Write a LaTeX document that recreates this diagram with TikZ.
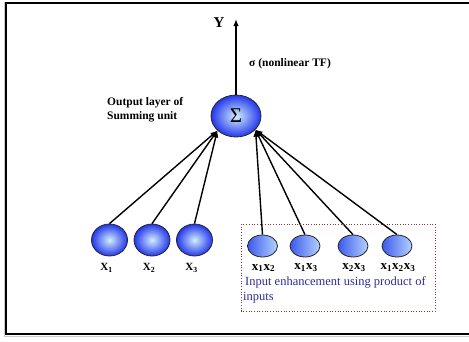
\documentclass[tikz,border=0pt]{standalone}
\usepackage{fontspec}
\setmainfont{Liberation Serif}
\usetikzlibrary{arrows.meta}
\usetikzlibrary{shapes.geometric}

\definecolor{ballblue}{RGB}{35,55,235}
\definecolor{balllight}{RGB}{210,238,255}
\definecolor{prodleft}{RGB}{60,90,235}
\definecolor{prodright}{RGB}{180,210,255}
\definecolor{enhblue}{RGB}{45,45,150}
\definecolor{boxred}{RGB}{140,50,50}

\tikzset{
  inball/.style={ellipse,draw=black!85,line width=0.8pt,shading=radial,
    inner color=balllight,outer color=ballblue,
    minimum width=36pt,minimum height=32pt,inner sep=0pt},
  sumball/.style={inball,minimum width=50pt,minimum height=42pt},
  prodball/.style={ellipse,draw=black!85,line width=0.8pt,
    left color=prodleft,right color=prodright,
    minimum width=30pt,minimum height=22pt,inner sep=0pt},
  inlabel/.style={font=\bfseries\fontsize{11}{12}\selectfont,inner sep=0pt},
  prodlabel/.style={font=\bfseries\fontsize{13}{14}\selectfont,inner sep=0pt},
  note/.style={font=\bfseries\fontsize{11.5}{14}\selectfont,align=left,inner sep=0pt},
  link/.style={-{Latex[length=7pt,width=5.5pt]},line width=1.4pt}
}

\begin{document}
\begin{tikzpicture}[x=1pt, y=-1pt]
    \useasboundingbox (0,0) rectangle (469,341);
    \draw[black!20,line width=1pt] (4,2) -- (4,336) -- (476,336);
    \draw[line width=2pt] (6,3) rectangle (476,334);

    \node[sumball] (sum) at (236,116) {\fontsize{21}{21}\selectfont Σ};
    \coordinate (out) at (236,19);
    \draw[link] (sum.north) -- (out);
    \node[font=\bfseries\fontsize{15}{15}\selectfont,inner sep=0pt] (ylab) at (219,23) {Y};
    \node[note,anchor=west] (tf) at (249,64) {σ (nonlinear TF)};
    \node[note,anchor=north west] (outlayer) at (107,97) {Output layer of\\Summing unit};

    \foreach \n/\x in {1/109.5,2/152,3/194.5} {
        \node[inball] (x\n) at (\x,240) {};
        \node[inlabel] (lx\n) at (\x-3,268) {X\textsubscript{\n}};
        \draw[link] (x\n.north) -- (sum.218);
    }

    \foreach \n/\x/\t in {12/262.5/{x\textsubscript{1}x\textsubscript{2}},
                          13/305/{x\textsubscript{1}x\textsubscript{3}},
                          23/353/{x\textsubscript{2}x\textsubscript{3}},
                          123/397/{x\textsubscript{1}x\textsubscript{2}x\textsubscript{3}}} {
        \node[prodball] (p\n) at (\x,246) {};
        \node[prodlabel] (lp\n) at (\x+1,268) {\t};
        \draw[link] (p\n.north) -- (sum.325);
    }

    \draw[boxred,dotted,line width=0.7pt] (241,224) rectangle (435,311);
    \node[anchor=north west,align=left,inner sep=0pt,text=enhblue,
          font=\fontsize{12.5}{15}\selectfont] (enh) at (243,276)
          {\hspace{2pt}Input enhancement using product of\\inputs};
\end{tikzpicture}
\end{document}
